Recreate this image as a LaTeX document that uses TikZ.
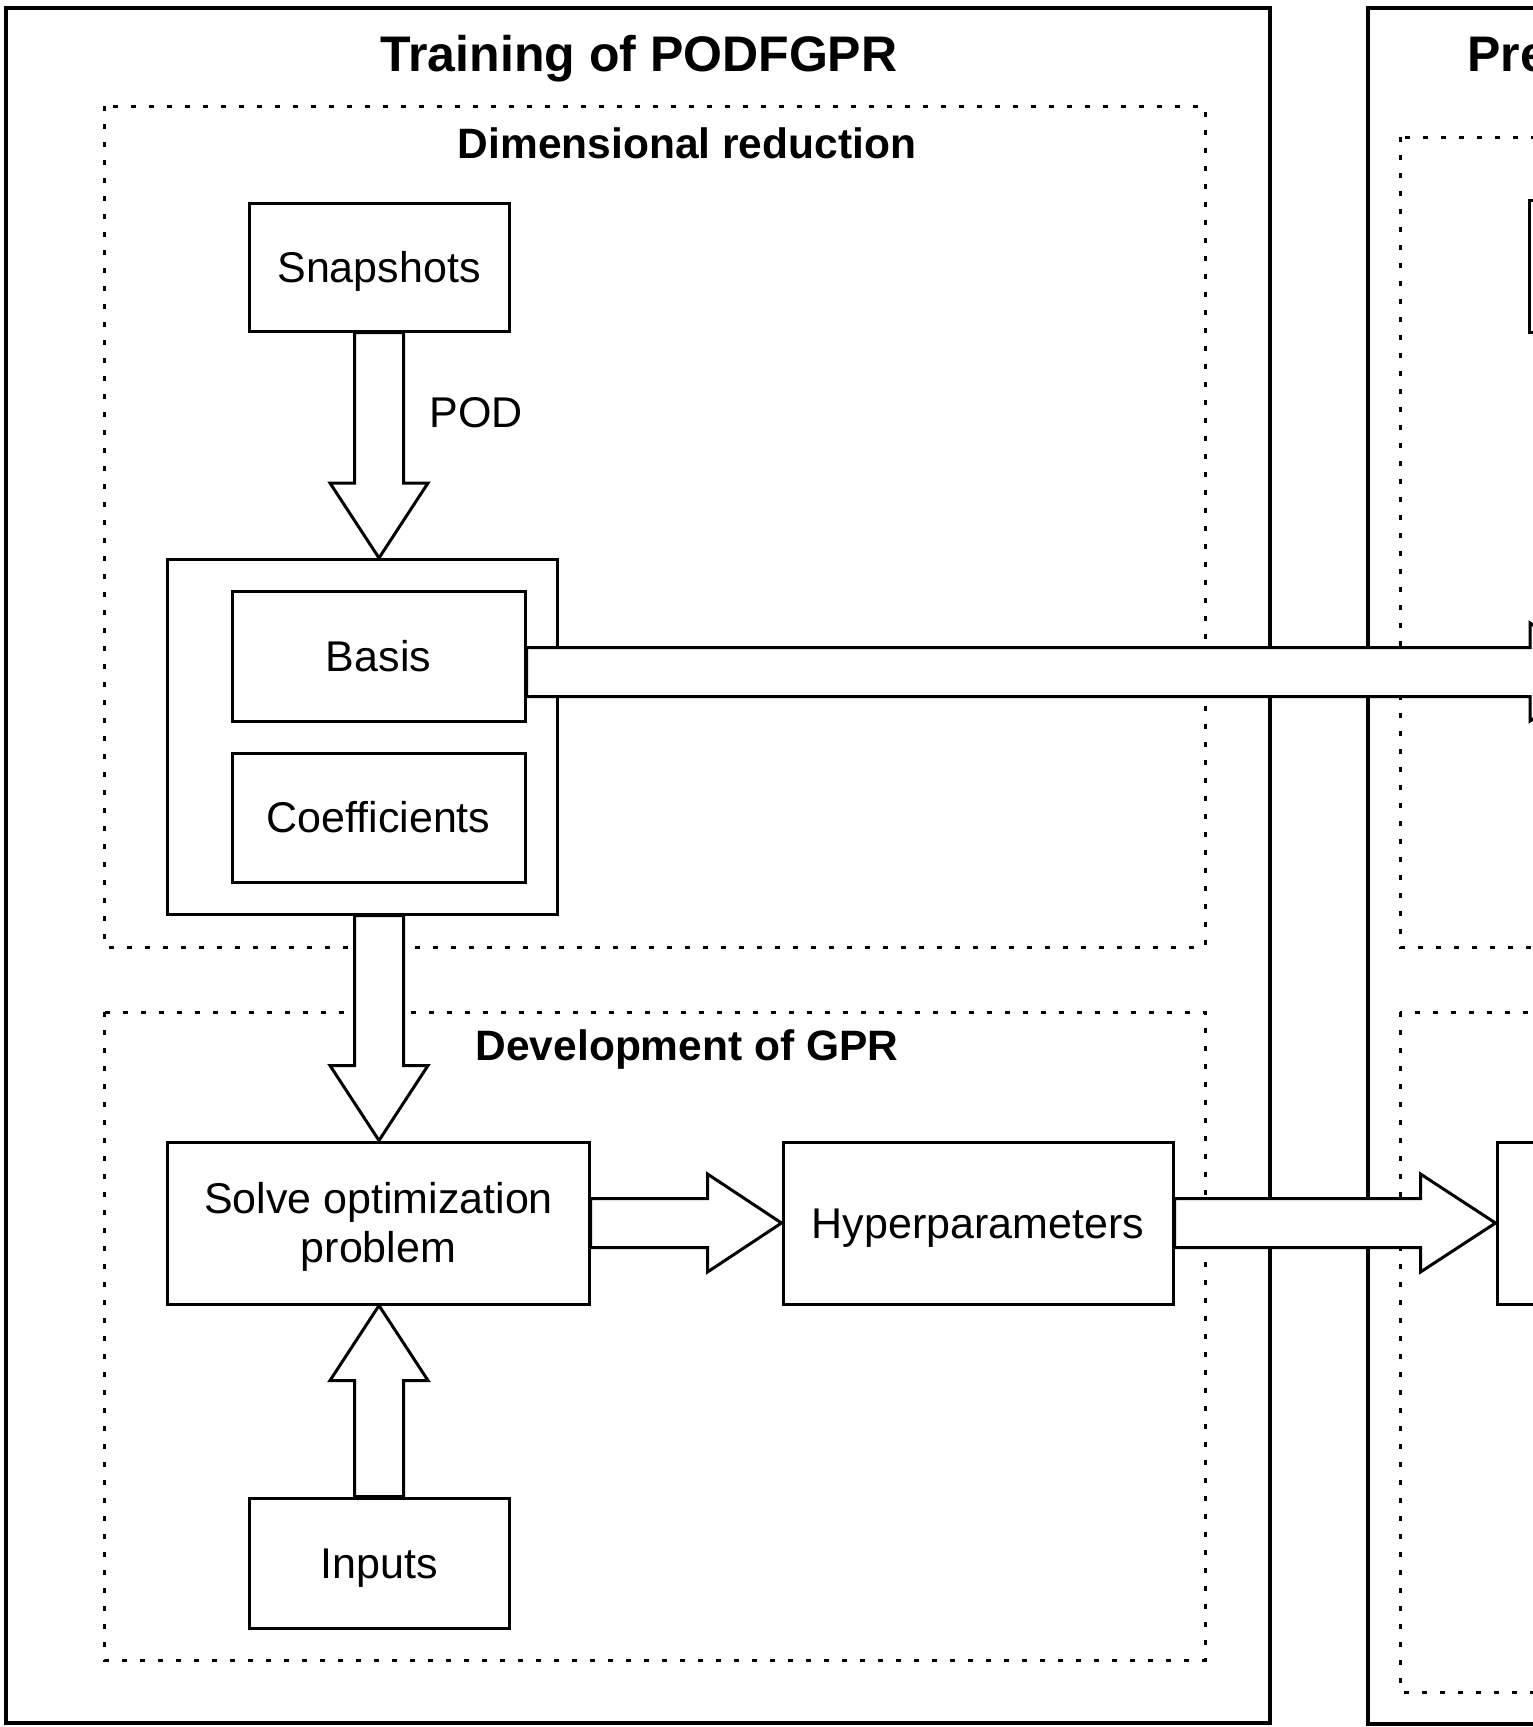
\documentclass[tikz,border=0pt]{standalone}
\usepackage{fontspec}
\setmainfont{Liberation Sans}
\usetikzlibrary{calc}
\begin{document}
\begin{tikzpicture}[x=1pt,y=-1pt,
  box/.style={draw, line width=3pt, inner sep=0pt, font=\fontsize{43}{49.5}\selectfont, text height=30.8pt, text depth=0pt},
  outerbox/.style={draw, line width=4pt},
  dotbox/.style={draw, line width=3pt, dash pattern=on 5pt off 13pt},
  ttl/.style={font=\fontsize{50}{56}\selectfont\bfseries, inner sep=0pt, text height=35.8pt, text depth=0pt},
  sub/.style={font=\fontsize{42.5}{48}\selectfont\bfseries, inner sep=0pt, text height=30.4pt, text depth=0pt},
  lbl/.style={font=\fontsize{43}{49.5}\selectfont, inner sep=0pt},
  blk/.style={draw, fill=white, line width=3pt, line join=miter},
]
\useasboundingbox (0,0) rectangle (1533,1727);
\clip (0,0) rectangle (1533,1727);
\fill[white] (0,0) rectangle (1533,1727);

% outer panels
\draw[outerbox] (6,8) rectangle (1270,1723);
\draw[outerbox] (1368,8) rectangle (1900,1724);

% dotted groups
\draw[dotbox] (104,106) rectangle (1205,947);
\draw[dotbox] (104,1012) rectangle (1205,1660);
\draw[dotbox] (1400,137) rectangle (1900,947);
\draw[dotbox] (1400,1012) rectangle (1900,1692);

% titles
\node[ttl] (t1) at (639,54) {Training of PODFGPR};
\node[ttl, anchor=west] (t2) at (1467,54) {Prediction};
\node[sub] (s1) at (687,143) {Dimensional reduction};
\node[sub] (s2) at (687,1045) {Development of GPR};

% nodes
\node[box, minimum width=260pt, minimum height=128pt] (snap) at (379,267) {Snapshots};
\node[box, minimum width=389.5pt, minimum height=354.5pt] (grp) at (362.25,736.75) {};
\node[box, minimum width=293pt, minimum height=130pt] (basis) at (378.5,656) {Basis};
\node[box, minimum width=293pt, minimum height=129pt] (coef) at (378.5,817.5) {Coefficients};
\node[box, minimum width=421.5pt, minimum height=162pt] (solve) at (378.25,1223) {};
\node[lbl, anchor=base] (solvea) at (378.5,1213) {Solve optimization};
\node[lbl, anchor=base] (solveb) at (378.5,1262.5) {problem};
\node[box, minimum width=390pt, minimum height=162pt] (hyper) at (978,1223) {Hyperparameters};
\node[box, minimum width=260pt, minimum height=130pt] (inputs) at (379,1563) {Inputs};
\node[box, minimum width=260pt, minimum height=132pt] (rsnap) at (1659,266) {};
\node[box, minimum width=260pt, minimum height=162pt] (rgpr) at (1627,1223) {};
\coordinate (rbasis) at (1605,672);
\node[lbl] (pod) at (476,412.5) {POD};

% block arrows
% Snapshots -> group (down)
\draw[blk] ($(snap.south)+(-24.5,0)$) -- ($(snap.south |- grp.north)+(-24.5,-75)$) -- ++(-24.5,0)
  -- (snap.south |- grp.north) -- ($(snap.south |- grp.north)+(49,-75)$) -- ++(-24.5,0)
  -- ($(snap.south)+(24.5,0)$) -- cycle;
% group -> solve (down)
\draw[blk] ($(grp.south -| snap.south)+(-24.5,0)$) -- ($(snap.south |- solve.north)+(-24.5,-75)$) -- ++(-24.5,0)
  -- (snap.south |- solve.north) -- ($(snap.south |- solve.north)+(49,-75)$) -- ++(-24.5,0)
  -- ($(grp.south -| snap.south)+(24.5,0)$) -- cycle;
% inputs -> solve (up)
\draw[blk] ($(inputs.north)+(-24.5,0)$) -- ($(inputs.north |- solve.south)+(-24.5,75)$) -- ++(-24.5,0)
  -- (inputs.north |- solve.south) -- ($(inputs.north |- solve.south)+(49,75)$) -- ++(-24.5,0)
  -- ($(inputs.north)+(24.5,0)$) -- cycle;
% solve -> hyper (right)
\draw[blk] ($(solve.east)+(0,-24.5)$) -- ($(hyper.west)+(-74,-24.5)$) -- ++(0,-24.5)
  -- (hyper.west) -- ($(hyper.west)+(-74,49)$) -- ++(0,-24.5)
  -- ($(solve.east)+(0,24.5)$) -- cycle;
% hyper -> right panel (right)
\draw[blk] ($(hyper.east)+(0,-24.5)$) -- ($(rgpr.west)+(-75,-24.5)$) -- ++(0,-24.5)
  -- (rgpr.west) -- ($(rgpr.west)+(-75,49)$) -- ++(0,-24.5)
  -- ($(hyper.east)+(0,24.5)$) -- cycle;
% basis -> right panel (right)
\draw[blk] ($(basis.east |- rbasis)+(0,-24.5)$) -- ($(rbasis)+(-75,-24.5)$) -- ++(0,-24.5)
  -- (rbasis) -- ($(rbasis)+(-75,49)$) -- ++(0,-24.5)
  -- ($(basis.east |- rbasis)+(0,24.5)$) -- cycle;
\end{tikzpicture}
\end{document}
